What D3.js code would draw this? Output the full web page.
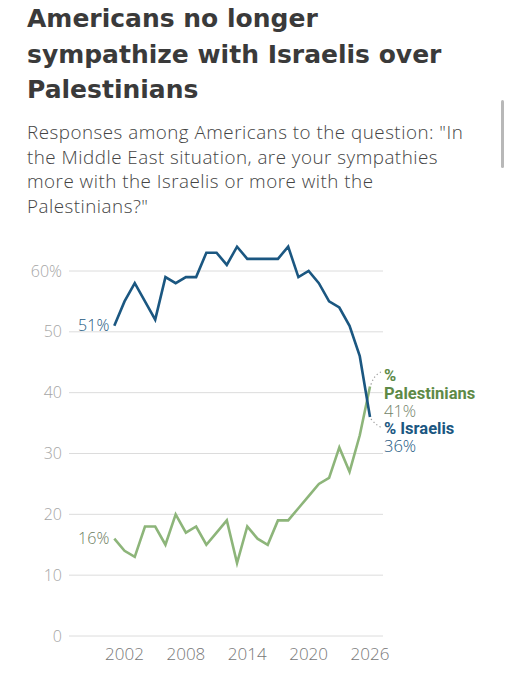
<!DOCTYPE html>
<html>
<head>
<meta charset="utf-8">
<script src="https://cdn.jsdelivr.net/npm/d3@7"></script>
<style>
  body { margin: 0; background: #fff; }
  svg { display: block; }
</style>
</head>
<body>
<script>
// Gallup: sympathies in the Middle East situation
const years = [2001, 2002, 2003, 2004, 2005, 2006, 2007, 2008, 2009, 2010, 2011, 2012, 2013,
  2014, 2015, 2016, 2017, 2018, 2019, 2020, 2021, 2022, 2023, 2024, 2025, 2026]
const israelis = [51, 55, 58, 55, 52, 59, 58, 59, 59, 63, 63, 61, 64,
  62, 62, 62, 62, 64, 59, 60, 58, 55, 54, 51, 46, 36]
const palestinians = [16, 14, 13, 18, 18, 15, 20, 17, 18, 15, 17, 19, 12,
  18, 16, 15, 19, 19, 21, 23, 25, 26, 31, 27, 33, 41]
const xTicks = [2002, 2008, 2014, 2020, 2026]
const yTicks = [0, 10, 20, 30, 40, 50, 60]

const titleLines = ['Americans no longer', 'sympathize with Israelis over', 'Palestinians']
const subLines = ['Responses among Americans to the question: "In',
  'the Middle East situation, are your sympathies',
  'more with the Israelis or more with the',
  'Palestinians?"']

const w = 509
const h = 679
const blue = '#1b5781'
const green = '#8db57a'
const greenText = '#5e8a47'

const svg = d3.select('body')
  .append('svg')
  .attr('width', w)
  .attr('height', h)

svg.append('g')
  .selectAll('text')
  .data(titleLines)
  .enter()
  .append('text')
  .attr('x', 27)
  .attr('y', (d, i) => 27 + i * 35.5)
  .attr('font-family', '"DejaVu Sans", sans-serif')
  .attr('font-weight', 700)
  .attr('font-size', 25)
  .attr('fill', '#3a3a3a')
  .text(d => d)

svg.append('g')
  .selectAll('text')
  .data(subLines)
  .enter()
  .append('text')
  .attr('x', 27)
  .attr('y', (d, i) => 139 + i * 24.5)
  .attr('font-family', '"Open Sans", sans-serif')
  .attr('font-weight', 300)
  .attr('font-size', 18.8)
  .attr('letter-spacing', 0.5)
  .attr('fill', '#444')
  .text(d => d)

// phone scrollbar from the screenshot
svg.append('rect')
  .attr('x', 501).attr('y', 100)
  .attr('width', 3).attr('height', 68)
  .attr('rx', 1.5)
  .attr('fill', '#b8b8b8')

const xScale = d3.scaleLinear()
  .domain([2001, 2026])
  .range([114.3, 370])

const yScale = d3.scaleLinear()
  .domain([0, 60])
  .range([636, 271])

const left = 69
const right = 383

svg.append('g')
  .selectAll('line')
  .data(yTicks)
  .enter()
  .append('line')
  .attr('x1', left)
  .attr('x2', right)
  .attr('y1', d => yScale(d))
  .attr('y2', d => yScale(d))
  .attr('stroke', '#dcdcdc')
  .attr('stroke-width', 1)

svg.append('g')
  .selectAll('text')
  .data(yTicks)
  .enter()
  .append('text')
  .attr('x', 62)
  .attr('y', d => yScale(d) + 5.5)
  .attr('text-anchor', 'end')
  .attr('font-family', '"Open Sans", sans-serif')
  .attr('font-weight', 300)
  .attr('font-size', 16)
  .attr('fill', '#a5a5a5')
  .text(d => d === 60 ? d + '%' : d)

svg.append('g')
  .selectAll('text')
  .data(xTicks)
  .enter()
  .append('text')
  .attr('x', d => xScale(d))
  .attr('y', 660)
  .attr('text-anchor', 'middle')
  .attr('font-family', '"Open Sans", sans-serif')
  .attr('font-weight', 300)
  .attr('font-size', 17)
  .attr('fill', '#777')
  .text(d => d)

const line = d3.line()
  .x(d => xScale(d[0]))
  .y(d => yScale(d[1]))

svg.append('path')
  .datum(years.map((y, i) => [y, palestinians[i]]))
  .attr('d', line)
  .attr('fill', 'none')
  .attr('stroke', green)
  .attr('stroke-width', 2.6)

svg.append('path')
  .datum(years.map((y, i) => [y, israelis[i]]))
  .attr('d', line)
  .attr('fill', 'none')
  .attr('stroke', blue)
  .attr('stroke-width', 2.6)

// start labels
const first = years[0]
svg.append('text')
  .attr('x', xScale(first) - 5)
  .attr('y', yScale(israelis[0]) + 5.5)
  .attr('text-anchor', 'end')
  .attr('font-family', '"Open Sans", sans-serif')
  .attr('font-weight', 300)
  .attr('font-size', 16)
  .attr('fill', blue)
  .text(israelis[0] + '%')

svg.append('text')
  .attr('x', xScale(first) - 5)
  .attr('y', yScale(palestinians[0]) + 5.5)
  .attr('text-anchor', 'end')
  .attr('font-family', '"Open Sans", sans-serif')
  .attr('font-weight', 300)
  .attr('font-size', 16)
  .attr('fill', '#6b7d60')
  .text(palestinians[0] + '%')

// end labels with dotted leaders
const last = years.length - 1
const lx = 384
const gx = xScale(years[last])
const gy = yScale(palestinians[last])
const by = yScale(israelis[last])

svg.append('path')
  .attr('d', `M${gx + 1},${gy - 2} Q${gx + 4},${gy - 12} ${lx - 2},${gy - 15}`)
  .attr('fill', 'none')
  .attr('stroke', '#999')
  .attr('stroke-width', 1.2)
  .attr('stroke-dasharray', '1.2,2.6')

svg.append('path')
  .attr('d', `M${gx + 1},${by + 2} Q${gx + 6},${by + 8} ${lx - 2},${by + 11}`)
  .attr('fill', 'none')
  .attr('stroke', '#999')
  .attr('stroke-width', 1.2)
  .attr('stroke-dasharray', '1.2,2.6')

const endLabels = [
  { t: '%', y: 380.5, fill: greenText, weight: 700, fam: 'Roboto, sans-serif' },
  { t: 'Palestinians', y: 398.5, fill: greenText, weight: 700, fam: 'Roboto, sans-serif' },
  { t: palestinians[last] + '%', y: 416.5, fill: '#74846a', weight: 300, fam: '"Open Sans", sans-serif' },
  { t: '% Israelis', y: 433.5, fill: blue, weight: 700, fam: 'Roboto, sans-serif' },
  { t: israelis[last] + '%', y: 452, fill: blue, weight: 300, fam: '"Open Sans", sans-serif' }
]

svg.append('g')
  .selectAll('text')
  .data(endLabels)
  .enter()
  .append('text')
  .attr('x', lx)
  .attr('y', d => d.y)
  .attr('font-family', d => d.fam)
  .attr('font-weight', d => d.weight)
  .attr('font-size', 16.5)
  .attr('fill', d => d.fill)
  .text(d => d.t)
</script>
</body>
</html>
